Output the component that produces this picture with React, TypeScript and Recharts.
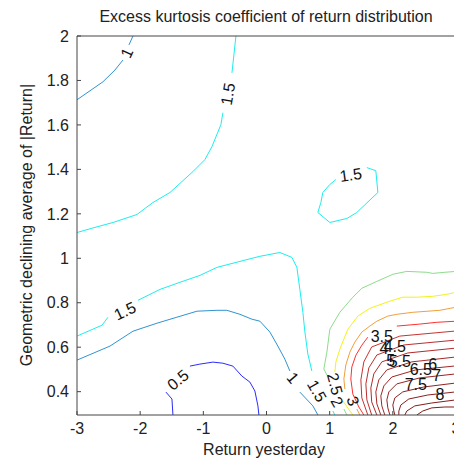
import React from 'react';
import { ComposedChart, Line, Scatter, XAxis, YAxis } from 'recharts';

const FONT = '"Liberation Sans", Arial, Helvetica, sans-serif';
const AXIS = '#444';

const xTicks = [-3, -2, -1, 0, 1, 2, 3];
const yTicks = [0.4, 0.6, 0.8, 1, 1.2, 1.4, 1.6, 1.8, 2];

// contour lines as [x, y]; a null y leaves a gap where a label sits
const lvl05 = [[-1.481, 0.295], [-1.497, 0.367], [-1.592, 0.398], [-1.5, null], [-1.212, 0.515], [-1.054, 0.524], [-0.848, 0.533], [-0.69, 0.528], [-0.532, 0.515], [-0.389, 0.47], [-0.263, 0.443], [-0.184, 0.403], [-0.136, 0.336], [-0.12, 0.295]];
const lvl1Top = [[-2.114, 2], [-2.177, 1.96], [-2.2, null], [-2.272, 1.892], [-2.399, 1.847], [-2.589, 1.794], [-3, 1.713]];
const lvl1Mid = [[-3, 0.542], [-2.478, 0.605], [-2.114, 0.672], [-1.734, 0.708], [-1.418, 0.735], [-1.101, 0.762], [-0.785, 0.766], [-0.627, 0.766], [-0.421, 0.748], [-0.231, 0.726], [-0.104, 0.717], [0.054, 0.668], [0.18, 0.605], [0.291, 0.546], [0.37, 0.493], [0.45, null], [0.528, 0.398], [0.734, 0.336], [0.813, 0.295]];
const lvl15Top = [[-0.484, 2], [-0.516, 1.915], [-0.547, 1.834], [-0.6, null], [-0.69, 1.655], [-0.722, 1.601], [-0.864, 1.502], [-0.975, 1.444], [-1.165, 1.39], [-1.528, 1.296], [-1.797, 1.251], [-2.051, 1.197], [-2.43, 1.161], [-2.715, 1.139], [-3, 1.116]];
const lvl15Loop = [[1.098, 1.354], [1.003, 1.332], [0.892, 1.296], [0.861, 1.251], [0.813, 1.206], [1.003, 1.161], [1.272, 1.179], [1.43, 1.206], [1.763, 1.296], [1.731, 1.394], [1.589, 1.408]];
const lvl15Mid = [[-3, 0.65], [-2.604, 0.699], [-2.509, 0.735], [-2.3, null], [-2.035, 0.811], [-1.687, 0.86], [-1.37, 0.892], [-1.054, 0.923], [-0.785, 0.959], [-0.421, 0.986], [-0.104, 1.009], [0.212, 1.026], [0.402, 1.004], [0.481, 0.959], [0.528, 0.86], [0.576, 0.757], [0.608, 0.668], [0.655, 0.569], [0.718, 0.493], [0.85, null], [1.051, 0.313], [1.082, 0.295]];
const lvl2 = [[3, 0.941], [2.823, 0.937], [2.633, 0.932], [2.538, 0.937], [2.222, 0.941], [2.0, 0.928], [1.747, 0.896], [1.509, 0.865], [1.367, 0.825], [1.161, 0.757], [1.003, 0.681], [0.956, 0.578], [0.908, 0.502], [0.956, 0.475], [1.1, null], [1.225, 0.322], [1.272, 0.295]];
const lvl25 = [[3, 0.847], [2.854, 0.838], [2.633, 0.829], [2.38, 0.825], [2.158, 0.825], [1.953, 0.807], [1.636, 0.775], [1.446, 0.74], [1.288, 0.681], [1.161, 0.591], [1.098, 0.533], [1.082, 0.488], [1.15, null], [1.209, 0.358], [1.367, 0.295]];
const lvl3 = [[3, 0.78], [2.744, 0.766], [2.316, 0.757], [2.063, 0.748], [1.921, 0.74], [1.747, 0.717], [1.636, 0.695], [1.509, 0.668], [1.399, 0.623], [1.32, 0.578], [1.256, 0.52], [1.225, 0.457], [1.241, 0.412], [1.3, null], [1.43, 0.322], [1.478, 0.295]];
const lvl35 = [[3, 0.717], [2.696, 0.712], [2.427, 0.704], [2.063, 0.695], [1.85, null], [1.604, 0.645], [1.509, 0.609], [1.415, 0.564], [1.351, 0.511], [1.335, 0.457], [1.367, 0.389], [1.462, 0.331], [1.541, 0.295]];
const lvl4 = [[3, 0.673], [2.111, 0.65], [1.665, 0.601], [1.541, 0.534], [1.494, 0.453], [1.509, 0.372], [1.604, 0.295]];
const lvl45 = [[3, 0.632], [2.174, 0.61], [1.747, 0.565], [1.62, 0.507], [1.573, 0.435], [1.589, 0.363], [1.665, 0.295]];
const lvl5 = [[3, 0.596], [2.237, 0.574], [1.826, 0.534], [1.699, 0.48], [1.652, 0.417], [1.665, 0.354], [1.747, 0.295]];
const lvl55 = [[3, 0.556], [2.301, 0.534], [1.905, 0.498], [1.778, 0.453], [1.731, 0.399], [1.747, 0.345], [1.81, 0.295]];
const lvl6 = [[3, 0.516], [2.364, 0.498], [1.984, 0.466], [1.858, 0.426], [1.81, 0.381], [1.826, 0.336], [1.873, 0.295]];
const lvl65 = [[3, 0.48], [2.427, 0.462], [2.063, 0.435], [1.937, 0.399], [1.905, 0.363], [1.921, 0.327], [1.953, 0.295]];
const lvl7 = [[3, 0.439], [2.491, 0.421], [2.158, 0.399], [2.032, 0.372], [2.0, 0.34], [2.016, 0.313], [2.032, 0.295]];
const lvl75 = [[3, 0.399], [2.554, 0.385], [2.253, 0.367], [2.127, 0.34], [2.095, 0.313], [2.095, 0.295]];
const lvl8 = [[3, 0.363], [2.617, 0.349], [2.348, 0.336], [2.222, 0.313], [2.19, 0.295]];
const lvl85 = [[2.38, 0.295], [2.475, 0.313], [2.617, 0.327], [2.823, 0.331], [3, 0.331]];

const contours = [
  { id: 'l05', pts: lvl05, color: '#2b2bff' },
  { id: 'l1a', pts: lvl1Top, color: '#2f93d2' },
  { id: 'l1b', pts: lvl1Mid, color: '#2f93d2' },
  { id: 'l15a', pts: lvl15Top, color: '#1ceeee' },
  { id: 'l15b', pts: lvl15Loop, color: '#1ceeee' },
  { id: 'l15c', pts: lvl15Mid, color: '#1ceeee' },
  { id: 'l2', pts: lvl2, color: '#8cdc8c' },
  { id: 'l25', pts: lvl25, color: '#f2f21e' },
  { id: 'l3', pts: lvl3, color: '#f0a03c' },
  { id: 'l35', pts: lvl35, color: '#ff3030' },
  { id: 'l4', pts: lvl4, color: '#c83232' },
  { id: 'l45', pts: lvl45, color: '#bc2e2e' },
  { id: 'l5', pts: lvl5, color: '#b22b2b' },
  { id: 'l55', pts: lvl55, color: '#a82828' },
  { id: 'l6', pts: lvl6, color: '#a02626' },
  { id: 'l65', pts: lvl65, color: '#982424' },
  { id: 'l7', pts: lvl7, color: '#902222' },
  { id: 'l75', pts: lvl75, color: '#8a2020' },
  { id: 'l8', pts: lvl8, color: '#841e1e' },
  { id: 'l85', pts: lvl85, color: '#7e1c1c' },
];

const labels = [
  { x: -2.209, y: 1.924, text: '1', angle: -65 },
  { x: -0.611, y: 1.739, text: '1.5', angle: -80 },
  { x: 1.335, y: 1.375, text: '1.5', angle: -8 },
  { x: -2.241, y: 0.763, text: '1.5', angle: -25 },
  { x: -1.402, y: 0.453, text: '0.5', angle: -40 },
  { x: 0.418, y: 0.462, text: '1', angle: 50 },
  { x: 0.797, y: 0.403, text: '1.5', angle: 60 },
  { x: 1.082, y: 0.435, text: '2.5', angle: 75 },
  { x: 1.114, y: 0.354, text: '2', angle: 60 },
  { x: 1.367, y: 0.358, text: '3', angle: 70 },
  { x: 1.826, y: 0.65, text: '3.5', angle: 0 },
  { x: 1.858, y: 0.592, text: '4', angle: 0 },
  { x: 2.032, y: 0.601, text: '4.5', angle: 0 },
  { x: 1.968, y: 0.538, text: '5', angle: 0 },
  { x: 2.111, y: 0.534, text: '5.5', angle: 0 },
  { x: 2.633, y: 0.52, text: '6', angle: 0 },
  { x: 2.443, y: 0.498, text: '6.5', angle: 0 },
  { x: 2.696, y: 0.471, text: '7', angle: 0 },
  { x: 2.364, y: 0.43, text: '7.5', angle: 0 },
  { x: 2.744, y: 0.385, text: '8', angle: 0 },
];

const toPts = (a: (number | null)[][]) => a.map(([x, y]) => ({ x, y }));

const LabelShape = (props: any) => {
  const { cx, cy, payload } = props;
  return (
    <text
      x={cx}
      y={cy}
      transform={`rotate(${payload.angle} ${cx} ${cy})`}
      textAnchor="middle"
      dominantBaseline="central"
      fontSize={16}
      fill="#111"
      fontFamily={FONT}
    >
      {payload.text}
    </text>
  );
};

const fmt = (v: number) => String(+v.toFixed(1));

export default function App() {
  const tickStyle = { fontSize: 16, fill: '#222', fontFamily: FONT };
  return (
    <div style={{ position: 'absolute', left: 0, top: 0, width: 454, height: 465, overflow: 'hidden', background: '#fff', fontFamily: FONT }}>
      <ComposedChart
        width={470}
        height={465}
        margin={{ top: 35, right: 0, bottom: 0, left: 0 }}
        style={{ fontFamily: FONT }}
      >
        <XAxis
          xAxisId="b"
          dataKey="x"
          type="number"
          domain={[-3, 3]}
          ticks={xTicks}
          interval={0}
          allowDataOverflow
          height={50}
          tickSize={-4}
          tickMargin={12}
          axisLine={{ stroke: AXIS }}
          tickLine={{ stroke: AXIS }}
          tick={tickStyle}
        />
        <XAxis
          xAxisId="t"
          orientation="top"
          dataKey="x"
          type="number"
          domain={[-3, 3]}
          ticks={xTicks}
          interval={0}
          allowDataOverflow
          height={1}
          tickSize={-4}
          axisLine={{ stroke: AXIS }}
          tickLine={{ stroke: AXIS }}
          tick={false}
        />
        <YAxis
          yAxisId="l"
          type="number"
          domain={[0.295, 2]}
          ticks={yTicks}
          interval={0}
          allowDataOverflow
          width={77}
          tickSize={-4}
          tickMargin={12}
          tickFormatter={fmt}
          axisLine={{ stroke: AXIS }}
          tickLine={{ stroke: AXIS }}
          tick={tickStyle}
        />
        <YAxis
          yAxisId="r"
          orientation="right"
          type="number"
          domain={[0.295, 2]}
          ticks={yTicks}
          interval={0}
          allowDataOverflow
          width={14}
          tickSize={-4}
          axisLine={{ stroke: AXIS }}
          tickLine={{ stroke: AXIS }}
          tick={false}
        />
        {contours.map((c) => (
          <Line
            key={c.id}
            xAxisId="b"
            yAxisId="l"
            data={toPts(c.pts)}
            dataKey="y"
            type="linear"
            stroke={c.color}
            strokeWidth={1}
            dot={false}
            activeDot={false}
            connectNulls={false}
            isAnimationActive={false}
          />
        ))}
        <Scatter
          xAxisId="b"
          yAxisId="l"
          data={labels}
          dataKey="y"
          shape={LabelShape}
          isAnimationActive={false}
        />
      </ComposedChart>
      <div style={{ position: 'absolute', left: 66, top: 8, width: 400, textAlign: 'center', fontSize: 16, lineHeight: '18px', color: '#222' }}>
        Excess kurtosis coefficient of return distribution
      </div>
      <div style={{ position: 'absolute', left: 64, top: 441, width: 400, textAlign: 'center', fontSize: 16, lineHeight: '18px', color: '#222' }}>
        Return yesterday
      </div>
      <div style={{ position: 'absolute', left: 27 - 200, top: 225 - 9, width: 400, textAlign: 'center', fontSize: 16, lineHeight: '18px', color: '#222', transform: 'rotate(-90deg)' }}>
        Geometric declining average of |Return|
      </div>
    </div>
  );
}
